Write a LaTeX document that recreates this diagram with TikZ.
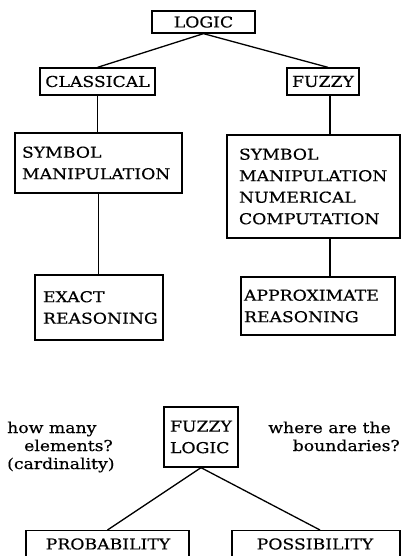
\documentclass[tikz,border=0pt]{standalone}
\usepackage{fontspec}
\setmainfont{DejaVu Serif}[FakeStretch=1.15,FakeBold=0.4]
\begin{document}
\begin{tikzpicture}[x=1pt,y=-1pt,
  every node/.style={font=\fontsize{15}{21.5}\selectfont},
  box/.style={draw,line width=1.3pt,inner sep=0pt},
  mbox/.style={draw,line width=1.3pt,align=left,inner ysep=0pt},
  conn/.style={line width=1.3pt},
  lbl/.style={inner sep=0pt}]
\clip (0,0) rectangle (402,556);
\fill[white] (0,0) rectangle (402,556);
% top tree
\node[box,minimum width=103pt,minimum height=22pt] (logic) at (203.5,22) {LOGIC};
\node[box,minimum width=115pt,minimum height=27pt] (classical) at (97.5,81.5) {CLASSICAL};
\node[box,minimum width=72pt,minimum height=27pt] (fuzzy) at (323,81.5) {FUZZY};
\node[mbox,inner xsep=7pt,text width=153pt,minimum height=60pt] (sym1) at (98.5,163) {SYMBOL\\MANIPULATION};
\node[mbox,inner xsep=12pt,text width=149pt,minimum height=103pt] (sym2) at (313.5,186.5) {SYMBOL\\MANIPULATION\\NUMERICAL\\COMPUTATION};
\node[mbox,inner xsep=8pt,text width=112pt,minimum height=65pt] (exact) at (99,307.5) {EXACT\\REASONING};
\node[mbox,inner xsep=3pt,text width=148pt,minimum height=58pt] (approx) at (318,306) {APPROXIMATE\\REASONING};
\coordinate (rx) at (330,0);
\draw[conn] (logic.south) -- (classical.north);
\draw[conn] (logic.south) -- ([xshift=5pt]fuzzy.north);
\draw[conn] (classical.south) -- (classical.south |- sym1.north);
\draw[conn] (sym1.south) -- (sym1.south |- exact.north);
\draw[conn] (fuzzy.south -| rx) -- (sym2.north -| rx);
\draw[conn] (sym2.south -| rx) -- (approx.north -| rx);
% bottom tree
\node[mbox,inner xsep=6pt,text width=62pt,minimum height=60pt] (fl) at (201,437) {FUZZY\\LOGIC};
\node[box,minimum width=163pt,minimum height=40pt,anchor=north] (prob) at (107.5,530) {};
\node[box,minimum width=168pt,minimum height=40pt,anchor=north] (poss) at (316,530) {};
\node[lbl] (probt) at (108,544) {PROBABILITY};
\node[lbl] (posst) at (315,544) {POSSIBILITY};
\draw[conn] (fl.south) -- (prob.north);
\draw[conn] (fl.south) -- ([xshift=4pt]poss.north);
\node[lbl,anchor=base west] (hm) at (7,433) {how many};
\node[lbl,anchor=base east] (el) at (113,451) {elements?};
\node[lbl,anchor=base west] (card) at (7,469) {(cardinality)};
\node[lbl,anchor=base east] (wh) at (391,433) {where are the};
\node[lbl,anchor=base east] (bd) at (400,451) {boundaries?};
\end{tikzpicture}
\end{document}
